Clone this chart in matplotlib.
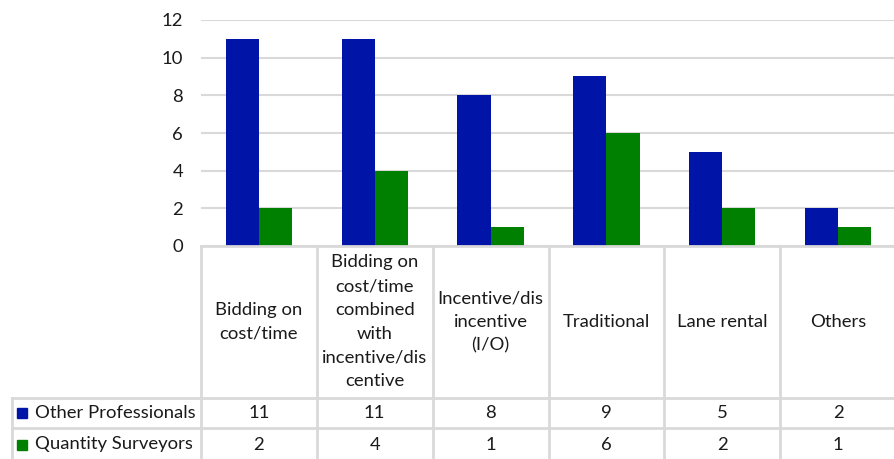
import matplotlib.pyplot as plt
import numpy as np

categories = ['Bidding on\ncost/time',
              'Bidding on\ncost/time\ncombined\nwith\nincentive/dis\ncentive',
              'Incentive/dis\nincentive\n(I/O)',
              'Traditional', 'Lane rental', 'Others']
series_names = ['Other Professionals', 'Quantity Surveyors']
other_prof = [11, 11, 8, 9, 5, 2]
quantity_surv = [2, 4, 1, 6, 2, 1]
colors = ['#0014A8', '#008000']

plt.rcParams['font.family'] = ['Lato', 'DejaVu Sans']
W, H = 894, 459
fs = 13.3
fig = plt.figure(figsize=(W / 100, H / 100), dpi=100)

left = 201 / W
right = 896 / W
top_px, base_px = 20, 246
ax = fig.add_axes([left, 1 - base_px / H, right - left, (base_px - top_px) / H])

x = np.arange(len(categories))
bw = 1 / 3.5
ax.bar(x - bw / 2, other_prof, bw, color=colors[0], zorder=3)
ax.bar(x + bw / 2, quantity_surv, bw, color=colors[1], zorder=3)
ax.set_xlim(-0.5, len(categories) - 0.5)
ax.set_ylim(0, 12)
ax.set_yticks(range(0, 13, 2))
ax.yaxis.grid(True, color='#D9D9D9', lw=1.5, zorder=0)
ax.tick_params(axis='y', length=0, pad=13, labelsize=fs, labelcolor='#1a1a1a')
ax.set_xticks([])
for s in ax.spines.values():
    s.set_visible(False)

# data table below the plot
tab = fig.add_axes([left, 0, right - left, (H - base_px) / H], sharex=ax)
tab.set_ylim(H - base_px, 0)
tab.axis('off')
grid_kw = dict(color='#D9D9D9', lw=2, clip_on=False)
hdr, r1, r2 = 152, 182, 213
lab_left = -0.5 - (201 - 12) / ((right - left) * W / len(categories))
for b in np.arange(-0.5, len(categories), 1.0):
    tab.plot([b, b], [0, r2 + 2], **grid_kw)
tab.plot([-0.5, len(categories) - 0.5], [0, 0], **grid_kw)
tab.plot([lab_left, len(categories) - 0.5], [hdr, hdr], **grid_kw)
tab.plot([lab_left, len(categories) - 0.5], [r1, r1], **grid_kw)
tab.plot([lab_left, lab_left], [hdr, r2 + 2], **grid_kw)

txt_kw = dict(ha='center', va='center', fontsize=fs, color='#1a1a1a')
for i, c in enumerate(categories):
    tab.text(i, hdr / 2, c, linespacing=1.6, **txt_kw)
    tab.text(i, (hdr + r1) / 2, str(other_prof[i]), **txt_kw)
    tab.text(i, (r1 + r2) / 2 + 1, str(quantity_surv[i]), **txt_kw)

for j, name in enumerate(series_names):
    yc = (hdr + r1) / 2 if j == 0 else (r1 + r2) / 2 + 1
    tab.plot([lab_left + 0.09], [yc], marker='s', ms=7.5, color=colors[j],
             clip_on=False, lw=0)
    tab.text(lab_left + 0.2, yc, name, ha='left', va='center', fontsize=fs,
             color='#1a1a1a')

fig.savefig('out.png', dpi=100)
